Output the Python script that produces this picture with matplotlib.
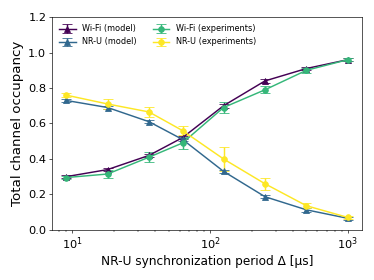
import matplotlib
matplotlib.use('Agg')
from matplotlib import pyplot as plt

period = [9, 18, 36, 63, 125, 250, 500, 1000]

wifi_model = [0.30, 0.34, 0.42, 0.52, 0.70, 0.84, 0.91, 0.96]
wifi_model_err = [0.01, 0.01, 0.01, 0.01, 0.01, 0.01, 0.01, 0.008]
nru_model = [0.73, 0.69, 0.61, 0.51, 0.33, 0.187, 0.113, 0.065]
nru_model_err = [0.01, 0.01, 0.01, 0.01, 0.01, 0.01, 0.01, 0.008]

wifi_exp = [0.295, 0.315, 0.41, 0.49, 0.69, 0.79, 0.90, 0.96]
wifi_exp_err = [0.01, 0.02, 0.03, 0.035, 0.03, 0.02, 0.015, 0.01]
nru_exp = [0.76, 0.71, 0.665, 0.56, 0.40, 0.26, 0.136, 0.07]
nru_exp_err = [0.01, 0.03, 0.03, 0.025, 0.07, 0.035, 0.015, 0.01]

if __name__ == '__main__':
    dpi = 58.4
    fig = plt.figure(figsize=(374 / dpi, 280 / dpi), dpi=dpi)
    ax = fig.add_axes([0.139, 0.179, 0.829, 0.760])

    style = dict(markersize=7, linewidth=1.8, capsize=6)
    ax.errorbar(period, wifi_model, yerr=wifi_model_err, color='#440154',
                marker='^', label='Wi-Fi (model)', **style)
    ax.errorbar(period, nru_model, yerr=nru_model_err, color='#31688e',
                marker='^', label='NR-U (model)', **style)
    ax.errorbar(period, wifi_exp, yerr=wifi_exp_err, color='#35b779',
                marker='o', label='Wi-Fi (experiments)', **style)
    ax.errorbar(period, nru_exp, yerr=nru_exp_err, color='#fde725',
                marker='o', label='NR-U (experiments)', **style)

    ax.set_xscale('log')
    ax.set_ylim(0, 1.2)
    ax.set_yticks([0.0, 0.2, 0.4, 0.6, 0.8, 1.0, 1.2])
    ax.tick_params(labelsize=14)
    ax.set_xlabel('NR-U synchronization period Δ [µs]', fontsize=15)
    ax.set_ylabel('Total channel occupancy', fontsize=16.5, labelpad=5)
    ax.legend(loc='upper left', ncol=2, fontsize=10, frameon=False)

    plt.savefig('out.png', dpi=dpi)
